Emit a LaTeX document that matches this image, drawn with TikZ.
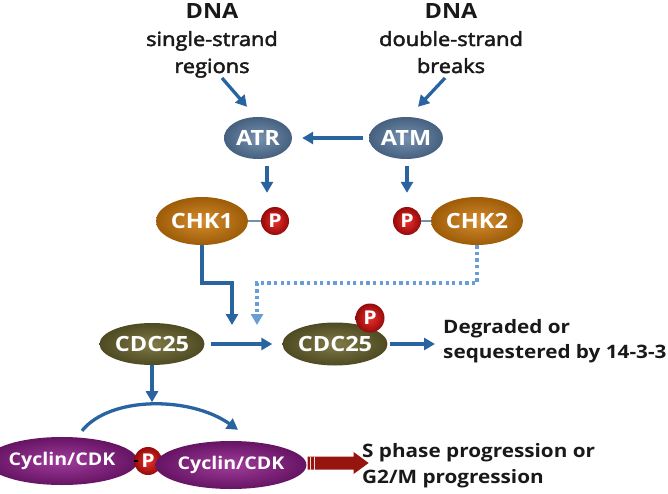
\documentclass[tikz,border=0pt]{standalone}
\usepackage{fontspec}
\setmainfont[FakeStretch=1.12]{Open Sans}
\newfontfamily\semifont[FakeBold=2.5,FakeStretch=1.12]{Open Sans}
\usetikzlibrary{arrows.meta,shapes.geometric,calc}
\definecolor{arrowblue}{RGB}{42,100,160}
\definecolor{dotblue}{RGB}{105,158,212}
\definecolor{atI}{RGB}{118,146,176}
\definecolor{atO}{RGB}{70,96,128}
\definecolor{chI}{RGB}{212,140,45}
\definecolor{chO}{RGB}{158,92,8}
\definecolor{pI}{RGB}{232,50,45}
\definecolor{pO}{RGB}{150,10,10}
\definecolor{cdI}{RGB}{128,122,72}
\definecolor{cdO}{RGB}{78,74,34}
\definecolor{cyI}{RGB}{160,60,155}
\definecolor{cyO}{RGB}{102,20,100}
\definecolor{linkgrey}{RGB}{110,145,180}
\definecolor{redarr}{RGB}{150,22,15}
\definecolor{txt}{RGB}{25,25,25}
\begin{document}
\begin{tikzpicture}[x=1pt,y=-1pt,
  bub/.style={ellipse, inner sep=0pt, text=white, shading=radial,
    font=\fontsize{21}{24}\selectfont\bfseries},
  atcol/.style={inner color=atI, outer color=atO},
  chcol/.style={inner color=chI, outer color=chO},
  cdcol/.style={inner color=cdI, outer color=cdO},
  cycol/.style={inner color=cyI, outer color=cyO, font=\fontsize{17.5}{20}\selectfont\bfseries},
  phos/.style={circle, inner sep=0pt, minimum size=28pt, shading=radial,
    inner color=pI, outer color=pO, text=white, font=\fontsize{19}{20}\selectfont\bfseries},
  arr/.style={draw=arrowblue, line width=3.3pt, -{Triangle[length=11pt,width=12pt]}},
  dotarr/.style={draw=dotblue, line width=3.3pt, dash pattern=on 3.3pt off 3.3pt,
    -{Triangle[length=11pt,width=12pt]}},
  lblb/.style={inner sep=0pt, text=txt, font=\fontsize{21}{24}\selectfont\bfseries},
  lblr/.style={inner sep=0pt, text=txt, font=\fontsize{18.5}{22}\selectfont\bfseries},
  lbls/.style={inner sep=0pt, text=txt, font=\fontsize{19.5}{22}\selectfont\semifont},
  link/.style={draw=linkgrey, line width=2pt}
]
\useasboundingbox (0,0) rectangle (668,494);

% top labels
\node[lblb, anchor=base] (dnaL1) at (212,19) {DNA};
\node[lbls, anchor=base] (dnaL2) at (212,46) {single-strand};
\node[lbls, anchor=base] (dnaL3) at (212,73) {regions};
\node[lblb, anchor=base] (dnaR1) at (451,19) {DNA};
\node[lbls, anchor=base] (dnaR2) at (451,46) {double-strand};
\node[lbls, anchor=base] (dnaR3) at (451,73) {breaks};

% kinases
\node[bub, atcol, minimum width=68pt, minimum height=42pt] (atr) at (258,138) {ATR};
\node[bub, atcol, minimum width=74pt, minimum height=42pt] (atm) at (406,138) {ATM};
\node[bub, chcol, minimum width=92pt, minimum height=48pt] (chk1) at (202,221) {CHK1};
\node[phos] (p1) at (275,221) {P};
\node[bub, chcol, minimum width=92pt, minimum height=48pt] (chk2) at (477,221) {CHK2};
\node[phos] (p2) at (407,221) {P};

% CDC25
\node[bub, cdcol, minimum width=90pt, minimum height=42pt] (cdcA) at (152,344) {CDC25};
\node[bub, cdcol, minimum width=89pt, minimum height=43pt] (cdcB) at (335,344) {CDC25};
\node[phos, minimum size=29pt] (p3) at (370,318) {P};

% Cyclin/CDK
\node[bub, cycol, minimum width=122pt, minimum height=48pt] (cycA) at (62,461) {Cyclin/CDK};
\node[phos] (p4) at (148,461) {P};
\node[bub, cycol, minimum width=120pt, minimum height=48pt] (cycB) at (231,465) {Cyclin/CDK};

% right labels
\node[lblr, anchor=base west] (deg1) at (443,333) {Degraded or};
\node[lblr, anchor=base west] (deg2) at (443,358) {sequestered by 14-3-3};
\node[lblr, anchor=base west] (sp1) at (362,457) {S phase progression or};
\node[lblr, anchor=base west] (sp2) at (362,483) {G2/M progression};

% phospho links
\draw[link] (chk1.east) -- (p1.west);
\draw[link] (p2.east) -- (chk2.west);
\draw[black, line width=1.5pt] (cycA.east) -- (p4.west);

% arrows from DNA damage
\coordinate (sL) at (222,78);
\coordinate (sR) at (445,78);
\draw[arr] (sL) -- ([shift={(-11,-10)}]atr.north);
\draw[arr] (sR) -- ([shift={(12,-10)}]atm.north);
\draw[arr, shorten <=6pt, shorten >=10pt] (atm.west) -- (atr.east);
\draw[arr] ($(atr.south)+(9,7)$) -- ($(p1.north)+(-8,-14)$);
\draw[arr] ($(atm.south)+(1,7)$) -- ($(p2.north)+(0,-14)$);

% checkpoint kinases to CDC25
\coordinate (j1) at (232,283);
\coordinate (t1) at (232,325);
\coordinate (j2) at (257,283);
\coordinate (t2) at (257,325);
\draw[arr] (chk1.south) |- (j1) -- (t1);
\draw[dotarr] (chk2.south) |- (j2) -- (t2);

\draw[arr, shorten <=6pt, shorten >=10pt] (cdcA.east) -- (cdcB.west);
\draw[arr, shorten <=2pt, shorten >=8pt] (cdcB.east) -- (cdcB.east -| deg2.west);
\draw[arr] (cdcA.south) -- ++(0,37);

% activation arc
\draw[arr] ($(cycA.north)+(20,-6)$) .. controls (110,396) and (190,396) .. ($(cycB.north)+(7,-11)$);

% red progression arrow
\coordinate (rs) at ($(cycB.east)+(1,-2)$);
\fill[redarr] ($(rs)+(0,-6.5)$) -- ($(rs)+(46,-6.5)$) -- ($(rs)+(46,-11)$) -- ($(rs)+(61,0)$)
  -- ($(rs)+(46,11)$) -- ($(rs)+(46,6.5)$) -- ($(rs)+(0,6.5)$) -- cycle;
\draw[white!85!redarr, line width=1pt] ($(rs)+(3,-6.5)$) -- ($(rs)+(3,6.5)$);
\draw[white!85!redarr, line width=1pt] ($(rs)+(7,-6.5)$) -- ($(rs)+(7,6.5)$);
\end{tikzpicture}
\end{document}
